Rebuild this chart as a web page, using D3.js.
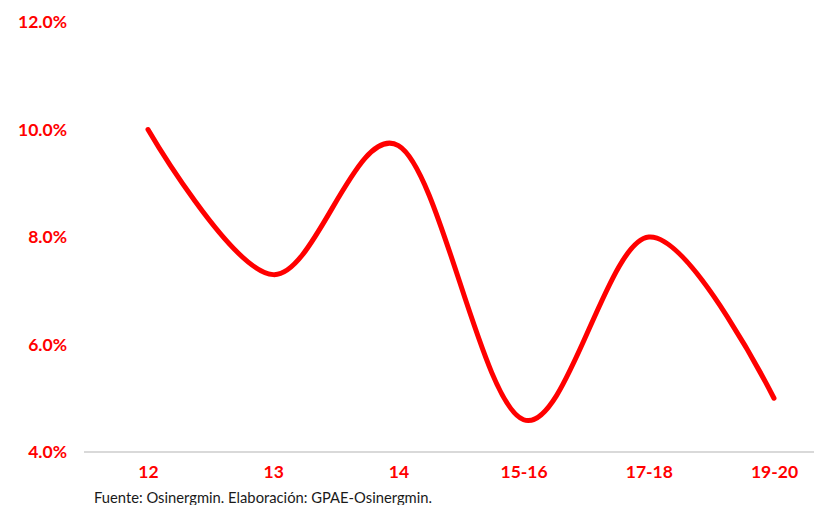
<!DOCTYPE html>
<html>
<head>
<meta charset="utf-8">
<script src="https://cdn.jsdelivr.net/npm/d3@7"></script>
<style>
  html, body { margin: 0; padding: 0; background: #fff; }
  svg { display: block; }
</style>
</head>
<body>
<svg id="chart" width="814" height="505"></svg>
<script>
// Periods and their rates (%)
const periods = ["12", "13", "14", "15-16", "17-18", "19-20"];
const rates = [10.0, 7.3, 9.7, 4.6, 8.0, 5.0];
const yTicks = [4, 6, 8, 10, 12];
const source = "Fuente: Osinergmin. Elaboración: GPAE-Osinergmin.";

const W = 814, H = 505;
const svg = d3.select("#chart");
const red = "#ff0000";
const font = "Lato, 'Open Sans', sans-serif";

const x = d3.scalePoint()
  .domain(periods)
  .range([148, 774]);

const y = d3.scaleLinear()
  .domain([4, 12])
  .range([452, 22]);

// baseline axis
svg.append("line")
  .attr("x1", 84).attr("x2", W)
  .attr("y1", y(4)).attr("y2", y(4))
  .attr("stroke", "#d9d9d9")
  .attr("stroke-width", 2);

// y axis labels
const yAxis = d3.axisLeft(y)
  .tickValues(yTicks)
  .tickFormat(d => d.toFixed(1) + "%")
  .tickSize(0)
  .tickPadding(0);
const gy = svg.append("g")
  .attr("transform", "translate(67,0)")
  .call(yAxis);
gy.select(".domain").remove();
gy.selectAll("text")
  .attr("fill", red)
  .attr("font-family", font)
  .attr("font-weight", "bold")
  .attr("font-size", 17.5);

// x axis labels
const xAxis = d3.axisBottom(x).tickSize(0).tickPadding(0);
const gx = svg.append("g")
  .attr("transform", "translate(0,466)")
  .call(xAxis);
gx.select(".domain").remove();
gx.selectAll("text")
  .attr("fill", red)
  .attr("font-family", font)
  .attr("font-weight", "bold")
  .attr("font-size", 17.5);

// smoothed series line
const line = d3.line()
  .x((d, i) => x(periods[i]))
  .y(d => y(d))
  .curve(d3.curveCardinal.tension(0));

svg.append("path")
  .datum(rates)
  .attr("d", line)
  .attr("fill", "none")
  .attr("stroke", red)
  .attr("stroke-width", 5)
  .attr("stroke-linecap", "round")
  .attr("stroke-linejoin", "round");

// source note
svg.append("text")
  .attr("x", 94)
  .attr("y", 503)
  .attr("fill", "#1a1a1a")
  .attr("font-family", font)
  .attr("font-size", 15)
  .attr("textLength", 338)
  .attr("lengthAdjust", "spacingAndGlyphs")
  .text(source);
</script>
</body>
</html>
